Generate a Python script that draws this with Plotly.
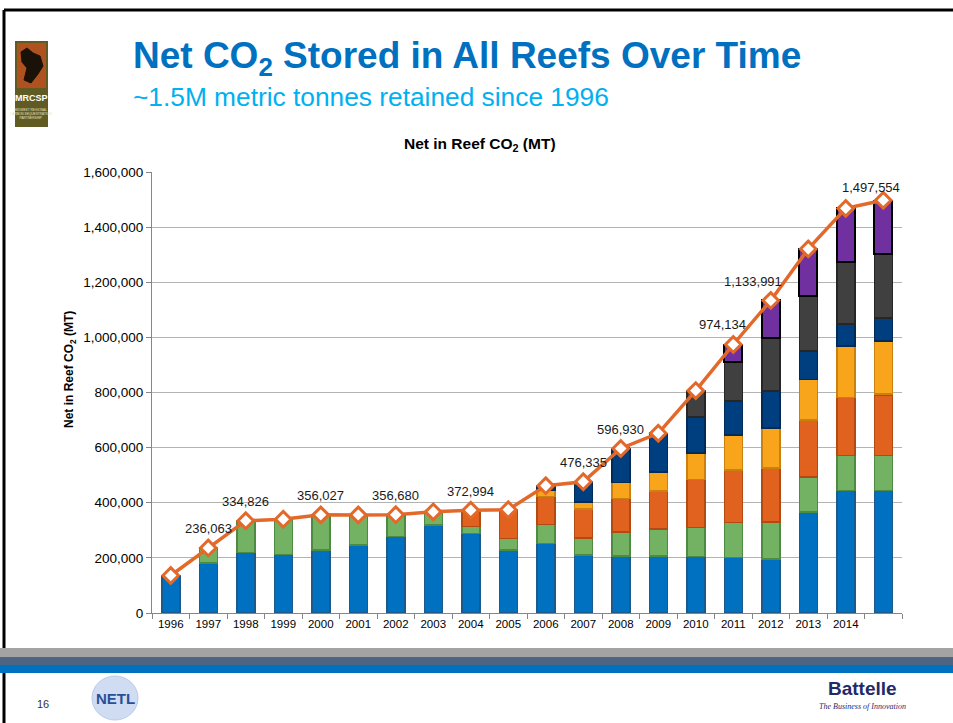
import plotly.graph_objects as go

# ---- data -------------------------------------------------------------
years = [str(y) for y in range(1996, 2016)]
tick_labels = years[:-1] + [""]          # last bar carries no year label

# stacked contributions (metric tonnes CO2), bottom to top
reef_a = [136000, 182000, 220000, 213000, 228000, 247000, 277000, 319000, 289000, 229000,
          253000, 210000, 207000, 207000, 205000, 201000, 196000, 367000, 444000, 444000]
reef_b = [0, 54063, 114826, 127000, 128027, 109000, 79680, 48000, 24000, 41000,
          69000, 63000, 86000, 97000, 105000, 127000, 135000, 127000, 127000, 127000]
reef_c = [0, 0, 0, 0, 0, 0, 0, 0, 59994, 105000,
          100000, 104000, 123000, 139000, 175000, 191000, 196000, 206000, 210000, 220000]
reef_d = [0] * 19 + [4000]
reef_e = [0, 0, 0, 0, 0, 0, 0, 0, 0, 0,
          22000, 25000, 57000, 69000, 95000, 127000, 145000, 148000, 188000, 191000]
reef_f = [0, 0, 0, 0, 0, 0, 0, 0, 0, 0,
          18000, 74335, 123930, 140000, 132000, 123000, 133000, 103000, 79000, 85000]
reef_g = [0, 0, 0, 0, 0, 0, 0, 0, 0, 0,
          0, 0, 0, 0, 95000, 143000, 192000, 200000, 227000, 232000]
reef_h = [0, 0, 0, 0, 0, 0, 0, 0, 0, 0,
          0, 0, 0, 0, 0, 62134, 136991, 170000, 193000, 190554]

net_total = [136000, 236063, 334826, 340000, 356027, 356000, 356680, 367000, 372994, 375000,
             462000, 476335, 596930, 652000, 807000, 974134, 1133991, 1321000, 1468000, 1497554]
labeled_years = ["1997", "1998", "2000", "2002", "2004", "2007", "2008", "2011", "2012", "2015"]

# ---- styling ----------------------------------------------------------
FONT = "Arial, Liberation Sans, sans-serif"
W, H = 953, 723
L, R, T, B = 152, 902, 172, 613          # plot area in pixels

series = [
    (reef_a, "#0070C0", "#1d5a8c", 1.5),
    (reef_b, "#72B262", "#4f8a42", 1.5),
    (reef_c, "#E0621E", "#b24a14", 1.5),
    (reef_d, "#E4E44A", "#5bc8e8", 1.0),
    (reef_e, "#F9A51B", "#c98110", 1.5),
    (reef_f, "#003F7F", "#002b58", 1.5),
    (reef_g, "#404040", "#262626", 1.5),
    (reef_h, "#7030A0", "#000000", 2.0),
]

fig = go.Figure()
for i, (vals, fill, edge, lw) in enumerate(series):
    fig.add_trace(go.Bar(
        x=years, y=vals, name=f"Reef {i + 1}",
        marker=dict(color=fill, line=dict(color=edge, width=lw)),
        showlegend=False, hoverinfo="skip",
    ))

fig.add_trace(go.Scatter(
    x=years, y=net_total, mode="lines+markers", name="Net in Reef CO2",
    line=dict(color="#E3692A", width=3.5),
    marker=dict(symbol="diamond", size=12, color="white",
                line=dict(color="#E3692A", width=3)),
    showlegend=False,
))

# value labels above selected points (x given as category index)
label_shift = {"2011": (-11, 20), "2012": (-18, 19), "2015": (-12, 13)}
annotations = []
for yr in labeled_years:
    k = years.index(yr)
    v = net_total[k]
    dx, dy = label_shift.get(yr, (0, 19))
    annotations.append(dict(
        x=k, y=v, xref="x", yref="y", text=f"{v:,}", showarrow=False,
        xshift=dx, yshift=dy, yanchor="middle",
        font=dict(family=FONT, size=13, color="#1a1a1a"),
    ))


def px(x):
    return (x - L) / (R - L)


def py(y):
    return (B - y) / (B - T)


def rect(x0, y0, x1, y1, fill, line=None, lw=0):
    return dict(type="rect", xref="paper", yref="paper",
                x0=px(x0), x1=px(x1), y0=py(y1), y1=py(y0),
                fillcolor=fill, line=dict(color=line or fill, width=lw), layer="above")


def text(x, y, s, size, color, bold=False, anchor="left", angle=0, italic=False, family=FONT):
    if bold:
        s = f"<b>{s}</b>"
    if italic:
        s = f"<i>{s}</i>"
    return dict(x=px(x), y=py(y), xref="paper", yref="paper", text=s, showarrow=False,
                xanchor=anchor, yanchor="middle", textangle=angle,
                font=dict(family=family, size=size, color=color))


shapes = [
    # slide frame
    dict(type="line", xref="paper", yref="paper", x0=px(4), x1=px(953), y0=py(10), y1=py(10),
         line=dict(color="black", width=3)),
    dict(type="line", xref="paper", yref="paper", x0=px(4), x1=px(4), y0=py(10), y1=py(723),
         line=dict(color="black", width=3)),
    # MRCSP badge
    rect(15, 41, 48, 127, "#5f5b22"),
    rect(17, 43, 46, 88, "#b0521f"),
    dict(type="path", xref="paper", yref="paper",
         path=" ".join([
             f"M {px(21)},{py(52)}", f"L {px(27)},{py(48)}", f"L {px(33)},{py(53)}",
             f"L {px(40)},{py(56)}", f"L {px(43)},{py(66)}", f"L {px(38)},{py(74)}",
             f"L {px(31)},{py(83)}", f"L {px(24)},{py(80)}", f"L {px(27)},{py(68)}",
             f"L {px(22)},{py(62)}", "Z"]),
         fillcolor="#1a1208", line=dict(color="#1a1208", width=1), layer="above"),
    # footer bands
    rect(0, 648, 953, 657, "#a3a3a3"),
    rect(0, 657, 953, 665, "#4d6580"),
    rect(0, 665, 953, 673, "#0070C0"),
    # NETL burst
    dict(type="circle", xref="paper", yref="paper", x0=px(92), x1=px(138), y0=py(720), y1=py(676),
         fillcolor="#cfdcf2", line=dict(color="#b8cbec", width=1), layer="above"),
]

annotations += [
    text(131, 58, "Net CO<sub>2</sub> Stored in All Reefs Over Time", 37, "#0070C0", bold=True),
    text(131, 97, "~1.5M metric tonnes retained since 1996", 26.3, "#00B0F0"),
    text(31, 98, "MRCSP", 9, "white", bold=True, anchor="center"),
    text(31, 114, "MIDWEST REGIONAL<br>CARBON SEQUESTRATION<br>PARTNERSHIP", 3.2, "#e8e0c0",
         anchor="center"),
    text(480, 145, "Net in Reef CO<sub>2</sub> (MT)", 15.5, "#000000", bold=True, anchor="center"),
    text(70, 370, "Net in Reef CO<sub>2</sub> (MT)", 12, "#000000", bold=True, anchor="center", angle=-90),
    text(43, 704, "16", 11, "#333333", anchor="center"),
    text(115, 698, "NETL", 15, "#2a4f9a", bold=True, anchor="center"),
    text(862, 688, "Battelle", 19, "#1f2a6b", bold=True, anchor="center"),
    text(862, 706, "The Business of Innovation", 8, "#1f2a6b", anchor="center", italic=True,
         family="Liberation Serif, serif"),
]

fig.update_layout(
    width=W, height=H, autosize=False,
    margin=dict(l=L, r=W - R, t=T, b=H - B, pad=0),
    paper_bgcolor="white", plot_bgcolor="white",
    barmode="stack", bargap=0.52,
    font=dict(family=FONT, size=12, color="#000000"),
    shapes=shapes, annotations=annotations,
    xaxis=dict(
        type="category", range=[-0.5, len(years) - 0.5], autorange=False,
        tickmode="array", tickvals=years, ticktext=tick_labels,
        tickson="boundaries", ticks="outside", ticklen=5, tickcolor="#868686",
        showline=True, linecolor="#868686", linewidth=1, showgrid=False,
        tickfont=dict(family=FONT, size=11.5, color="#000000"),
    ),
    yaxis=dict(
        range=[0, 1600000], autorange=False,
        tickvals=list(range(0, 1600001, 200000)), tickformat=",",
        ticks="outside", ticklen=5, tickcolor="#868686",
        showline=True, linecolor="#868686", linewidth=1,
        showgrid=True, gridcolor="#b3b3b3", gridwidth=1, zeroline=False,
        tickfont=dict(family=FONT, size=13.5, color="#000000"),
    ),
)

fig.write_html("out.html")
